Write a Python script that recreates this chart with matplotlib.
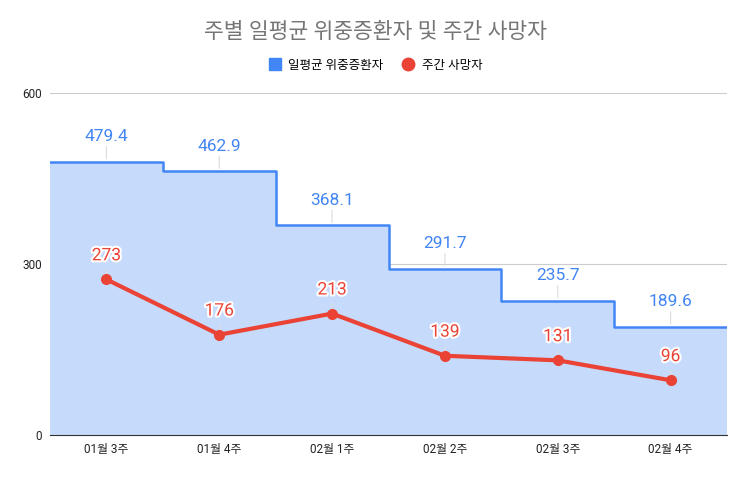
import matplotlib.pyplot as plt
import matplotlib.patheffects as pe
from matplotlib.lines import Line2D

plt.rcParams["font.family"] = ["Roboto", "Noto Sans CJK KR", "DejaVu Sans"]

weeks = ["01월 3주", "01월 4주", "02월 1주", "02월 2주", "02월 3주", "02월 4주"]
severe = [479.4, 462.9, 368.1, 291.7, 235.7, 189.6]
deaths = [273, 176, 213, 139, 131, 96]

BLUE = "#4285F4"
RED = "#EA4335"

fig = plt.figure(figsize=(7.51, 4.78), dpi=100)
ax = fig.add_axes([50 / 751, 43 / 478, 677 / 751, 342 / 478])

n = len(weeks)
xs = list(range(n))
edges = [i - 0.5 for i in range(n + 1)]
step_y = severe + [severe[-1]]

ax.fill_between(edges, step_y, step="post", color="#c6dafc", lw=0, zorder=1)
ax.step(edges, step_y, where="post", color=BLUE, lw=1.8, zorder=2)
ax.plot(xs, deaths, color=RED, lw=3, marker="o", ms=7, zorder=4)

for x, v in zip(xs, severe):
    ax.annotate("", xy=(x, v), xytext=(0, 13), textcoords="offset points",
                arrowprops=dict(arrowstyle="-", color="#dddddd", lw=0.8))
    ax.annotate(f"{v}", (x, v), xytext=(0, 18), textcoords="offset points",
                ha="center", va="center", color=BLUE, fontsize=12.5, zorder=5)

for x, v in zip(xs, deaths):
    ax.annotate("", xy=(x, v), xytext=(0, 9), textcoords="offset points",
                arrowprops=dict(arrowstyle="-", color="#dddddd", lw=0.8))
    ax.annotate(f"{v}", (x, v), xytext=(0, 17), textcoords="offset points",
                ha="center", va="center", color=RED, fontsize=12.5, zorder=6,
                path_effects=[pe.withStroke(linewidth=3, foreground="white")])

ax.set_xlim(-0.5, n - 0.5)
ax.set_ylim(0, 600)
ax.set_yticks([0, 300, 600])
ax.set_xticks(xs)
ax.set_xticklabels(weeks, fontsize=8.5, color="#222222")
ax.tick_params(axis="y", length=0, labelsize=8.5, labelcolor="#222222", pad=6)
ax.tick_params(axis="x", length=0, pad=6)
ax.grid(axis="y", color="#cccccc", lw=0.8, zorder=0)
ax.set_axisbelow(True)
for s in ["top", "right", "left"]:
    ax.spines[s].set_visible(False)
ax.spines["bottom"].set_color("#333333")
ax.spines["bottom"].set_zorder(3)

handles = [
    Line2D([], [], ls="none", marker="s", ms=8, color=BLUE),
    Line2D([], [], ls="none", marker="o", ms=9, color=RED),
]
labels = ["일평균 위중증환자", "주간 사망자"]
fig.legend(handles, labels, loc="center", bbox_to_anchor=(0.5, 1 - 65 / 478),
           ncol=2, frameon=False, fontsize=9, handlelength=1, handletextpad=0.6,
           columnspacing=1.5)

fig.text(0.5, 1 - 32 / 478, "주별 일평균 위중증환자 및 주간 사망자", ha="center",
         va="center", fontsize=15.5, color="#757575")

fig.savefig("out.png", dpi=100)
